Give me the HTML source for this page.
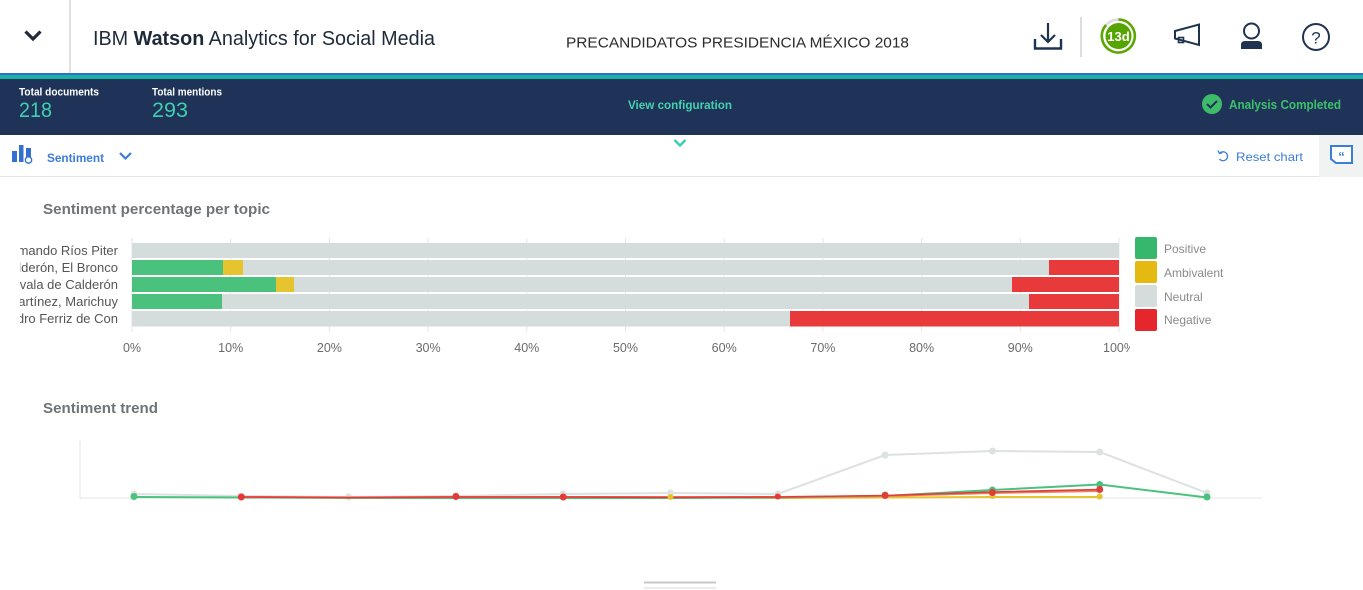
<!DOCTYPE html>
<html><head><meta charset="utf-8">
<style>
html,body{margin:0;padding:0;background:#fff;}
body{width:1363px;height:590px;overflow:hidden;}
svg{display:block;font-family:"Liberation Sans",sans-serif;}
</style></head>
<body>
<svg width="1363" height="590" viewBox="0 0 1363 590" xmlns="http://www.w3.org/2000/svg">
<defs>
<clipPath id="lblclip"><rect x="20" y="230" width="110" height="110"/></clipPath>
<clipPath id="tickclip"><rect x="100" y="330" width="1030" height="30"/></clipPath>
</defs>
<rect width="1363" height="590" fill="#fff"/>

<!-- HEADER -->
<polyline points="25.5,31.5 33,39 40.5,31.5" fill="none" stroke="#1f2a3a" stroke-width="3.2"/>
<line x1="70" y1="0" x2="70" y2="73" stroke="#e2e2e2" stroke-width="2"/>
<text x="93" y="45" font-size="20" fill="#1e2a3a" textLength="342" lengthAdjust="spacingAndGlyphs">IBM <tspan font-weight="bold">Watson</tspan> Analytics for Social Media</text>
<text x="566" y="47.5" font-size="15" fill="#2b2b2b" textLength="343" lengthAdjust="spacingAndGlyphs">PRECANDIDATOS PRESIDENCIA MÉXICO 2018</text>

<!-- download -->
<line x1="1048" y1="23" x2="1048" y2="42" stroke="#1f3350" stroke-width="2.2"/>
<polyline points="1041,35 1048,42 1055,35" fill="none" stroke="#1f3350" stroke-width="2.2"/>
<polyline points="1035,39 1035,48.5 1061,48.5 1061,39" fill="none" stroke="#1f3350" stroke-width="2.4"/>
<line x1="1081" y1="17" x2="1081" y2="57" stroke="#dddddd" stroke-width="2"/>
<!-- 13d -->
<circle cx="1118.5" cy="36" r="16.5" fill="none" stroke="#dcdcdc" stroke-width="2.5"/>
<path d="M1118.5,19.5 A16.5,16.5 0 1 1 1106,25" fill="none" stroke="#5aa700" stroke-width="2.5"/>
<circle cx="1118.5" cy="36" r="13" fill="#56a400"/>
<text x="1118.5" y="41" font-size="13" font-weight="bold" fill="#fff" text-anchor="middle">13d</text>
<!-- megaphone -->
<polygon points="1175,31 1199,24.5 1199,45 1175,38.5" fill="none" stroke="#1f3350" stroke-width="2"/>
<rect x="1178.5" y="37.5" width="5" height="5" fill="none" stroke="#1f3350" stroke-width="1.6"/>
<!-- user -->
<circle cx="1251.5" cy="31" r="7.5" fill="none" stroke="#1f3350" stroke-width="2"/>
<path d="M1241,49 L1241,45 Q1241,41 1245,41 L1258,41 Q1262,41 1262,45 L1262,49 Z" fill="#1f3350"/>
<!-- help -->
<circle cx="1316" cy="37" r="13" fill="none" stroke="#1f3350" stroke-width="2"/>
<text x="1316" y="43.5" font-size="17" fill="#1f3350" text-anchor="middle">?</text>

<!-- STRIPES / NAV BAR -->
<rect x="0" y="73" width="1363" height="2" fill="#2f6fd3"/>
<rect x="0" y="75" width="1363" height="4" fill="#16b3a3"/>
<rect x="0" y="79" width="1363" height="56" fill="#1f3358"/>
<text x="19" y="95.5" font-size="11" font-weight="bold" fill="#fff" textLength="80" lengthAdjust="spacingAndGlyphs">Total documents</text>
<text x="19" y="117" font-size="21" fill="#3fcfb0" textLength="33" lengthAdjust="spacingAndGlyphs">218</text>
<text x="152" y="95.5" font-size="11" font-weight="bold" fill="#fff" textLength="70" lengthAdjust="spacingAndGlyphs">Total mentions</text>
<text x="152" y="117" font-size="21" fill="#3fcfb0" textLength="36" lengthAdjust="spacingAndGlyphs">293</text>
<text x="628" y="109" font-size="12" font-weight="bold" fill="#45d1b0" textLength="104" lengthAdjust="spacingAndGlyphs">View configuration</text>
<circle cx="1212" cy="104" r="10" fill="#3dbb6a"/>
<polyline points="1207,104 1210.5,107.5 1217,101" fill="none" stroke="#1f3358" stroke-width="2"/>
<text x="1229" y="109" font-size="12.5" font-weight="bold" fill="#3ec06b" textLength="112" lengthAdjust="spacingAndGlyphs">Analysis Completed</text>

<!-- SUB TOOLBAR -->
<polyline points="674.5,140 680,145.5 685.5,140" fill="none" stroke="#3fcfb0" stroke-width="2.5"/>
<rect x="12" y="151" width="5" height="11" fill="#3470d0"/>
<rect x="19" y="145" width="4.5" height="17" fill="#3470d0"/>
<rect x="26" y="148" width="5" height="9" fill="#3470d0"/>
<circle cx="28.5" cy="160" r="3.2" fill="none" stroke="#3470d0" stroke-width="1.3"/>
<text x="47" y="162" font-size="12" font-weight="bold" fill="#3b7dd8" textLength="57" lengthAdjust="spacingAndGlyphs">Sentiment</text>
<polyline points="120,153 125.5,158.5 131,153" fill="none" stroke="#3b7dd8" stroke-width="2.2"/>
<path d="M1219.5,153.5 A4.5,4.5 0 1 1 1219.5,159" fill="none" stroke="#3b7dd8" stroke-width="1.3"/>
<polyline points="1218,150.5 1219.5,153.5 1222.5,152.5" fill="none" stroke="#3b7dd8" stroke-width="1.3"/>
<text x="1236" y="161" font-size="12" fill="#3b7dd8" textLength="67" lengthAdjust="spacingAndGlyphs">Reset chart</text>
<line x1="0" y1="176.5" x2="1319" y2="176.5" stroke="#e4e4e4" stroke-width="1"/>
<rect x="1319" y="135" width="44" height="42" fill="#f1f3f3"/>
<path d="M1331,146 L1352,146 L1352,163 L1336,163 L1331,159 Z" fill="#fff" stroke="#3b7dd8" stroke-width="2"/>
<text x="1341.5" y="161" font-size="13" font-weight="bold" fill="#3b7dd8" text-anchor="middle">“</text>

<!-- BAR CHART -->
<text x="43" y="214" font-size="15" font-weight="bold" fill="#6f7478" textLength="227" lengthAdjust="spacingAndGlyphs">Sentiment percentage per topic</text>
<g stroke="#e6e6e6" stroke-width="1">
<line x1="132" y1="238" x2="132" y2="332"/>
<line x1="230.7" y1="238" x2="230.7" y2="332"/>
<line x1="329.4" y1="238" x2="329.4" y2="332"/>
<line x1="428.1" y1="238" x2="428.1" y2="332"/>
<line x1="526.8" y1="238" x2="526.8" y2="332"/>
<line x1="625.5" y1="238" x2="625.5" y2="332"/>
<line x1="724.2" y1="238" x2="724.2" y2="332"/>
<line x1="822.9" y1="238" x2="822.9" y2="332"/>
<line x1="921.6" y1="238" x2="921.6" y2="332"/>
<line x1="1020.3" y1="238" x2="1020.3" y2="332"/>
<line x1="1119" y1="238" x2="1119" y2="332"/>
</g>
<!-- row 1 -->
<rect x="132" y="243" width="987" height="15" fill="#d5dcdc"/>
<!-- row 2 -->
<rect x="132" y="260" width="987" height="15" fill="#d5dcdc"/>
<rect x="132" y="260" width="91" height="15" fill="#4ac27d"/>
<rect x="223" y="260" width="20" height="15" fill="#e6c430"/>
<rect x="1049" y="260" width="70" height="15" fill="#e8393b"/>
<!-- row 3 -->
<rect x="132" y="277" width="987" height="15" fill="#d5dcdc"/>
<rect x="132" y="277" width="144" height="15" fill="#4ac27d"/>
<rect x="276" y="277" width="18" height="15" fill="#e6c430"/>
<rect x="1012" y="277" width="107" height="15" fill="#e8393b"/>
<!-- row 4 -->
<rect x="132" y="294" width="987" height="15" fill="#d5dcdc"/>
<rect x="132" y="294" width="90" height="15" fill="#4ac27d"/>
<rect x="1029" y="294" width="90" height="15" fill="#e8393b"/>
<!-- row 5 -->
<rect x="132" y="311" width="987" height="15.5" fill="#d5dcdc"/>
<rect x="790" y="311" width="329" height="15.5" fill="#e8393b"/>

<g clip-path="url(#lblclip)" font-size="13" fill="#555" text-anchor="end">
<text x="118" y="255">Armando Ríos Piter</text>
<text x="118" y="272">Jaime Rodríguez Calderón, El Bronco</text>
<text x="118" y="289">Margarita Zavala de Calderón</text>
<text x="118" y="306">María de Jesús Patricio Martínez, Marichuy</text>
<text x="118" y="323">Pedro Ferriz de Con</text>
</g>
<g clip-path="url(#tickclip)" font-size="12.5" fill="#6b6b6b" text-anchor="middle">
<text x="132" y="352">0%</text>
<text x="230.7" y="352">10%</text>
<text x="329.4" y="352">20%</text>
<text x="428.1" y="352">30%</text>
<text x="526.8" y="352">40%</text>
<text x="625.5" y="352">50%</text>
<text x="724.2" y="352">60%</text>
<text x="822.9" y="352">70%</text>
<text x="921.6" y="352">80%</text>
<text x="1020.3" y="352">90%</text>
<text x="1119" y="352">100%</text>
</g>
<!-- legend -->
<rect x="1135" y="237" width="22" height="22" rx="2" fill="#35b86e"/>
<rect x="1135" y="261" width="22" height="22" rx="2" fill="#e3b912"/>
<rect x="1135" y="285" width="22" height="22" rx="2" fill="#d5dcdc"/>
<rect x="1135" y="309" width="22" height="22" rx="2" fill="#e5272d"/>
<g font-size="12" fill="#8a8a8a">
<text x="1164" y="253">Positive</text>
<text x="1164" y="277">Ambivalent</text>
<text x="1164" y="301">Neutral</text>
<text x="1164" y="324">Negative</text>
</g>

<!-- TREND CHART -->
<text x="43" y="413" font-size="15" font-weight="bold" fill="#6f7478" textLength="115" lengthAdjust="spacingAndGlyphs">Sentiment trend</text>
<line x1="80" y1="441" x2="80" y2="498" stroke="#e6e6e6" stroke-width="1"/>
<line x1="80" y1="498" x2="1262" y2="498" stroke="#e6e6e6" stroke-width="1"/>

<polyline fill="none" stroke="#dde1e1" stroke-width="2" points="134,494 241.3,496 348.6,497 455.9,496 563.2,494 670.5,493 777.8,494 885.1,455 992.4,451 1099.7,452 1207,493"/>
<g fill="#dde1e1">
<circle cx="134" cy="494" r="3.5"/><circle cx="241.3" cy="496" r="3.5"/><circle cx="348.6" cy="497" r="3.5"/><circle cx="455.9" cy="496" r="3.5"/><circle cx="563.2" cy="494" r="3.5"/><circle cx="670.5" cy="493" r="3.5"/><circle cx="777.8" cy="494" r="3.5"/><circle cx="885.1" cy="455" r="3.5"/><circle cx="992.4" cy="451" r="3.5"/><circle cx="1099.7" cy="452" r="3.5"/><circle cx="1207" cy="493" r="3.5"/>
</g>
<polyline fill="none" stroke="#e6c430" stroke-width="2" points="563.2,497.5 670.5,497 777.8,498 885.1,497.5 992.4,497 1099.7,497"/>
<polyline fill="none" stroke="#4ac27d" stroke-width="2" points="134,497 241.3,497.5 348.6,498 455.9,498 563.2,498 670.5,498 777.8,497.5 885.1,496 992.4,490 1099.7,484.5 1207,497.5"/>
<polyline fill="none" stroke="#e8825a" stroke-width="2" points="241.3,497 348.6,497.5 455.9,497 563.2,497 670.5,497 777.8,497 885.1,496 992.4,493 1099.7,491"/>
<polyline fill="none" stroke="#e23b3b" stroke-width="1.6" points="241.3,497 348.6,497.5 455.9,497 563.2,497 670.5,497.5 777.8,497 885.1,495.5 992.4,492 1099.7,489.5"/>
<g fill="#e6c430">
<circle cx="670.5" cy="497" r="3"/><circle cx="992.4" cy="496" r="3"/><circle cx="1099.7" cy="496.5" r="3"/>
</g>
<g fill="#4ac27d">
<circle cx="134" cy="496.5" r="3.5"/><circle cx="885.1" cy="495" r="3.5"/><circle cx="992.4" cy="490" r="3.5"/><circle cx="1099.7" cy="484.5" r="3.5"/><circle cx="1207" cy="497" r="3.5"/>
</g>
<g fill="#e23b3b">
<circle cx="241.3" cy="497" r="3.5"/><circle cx="455.9" cy="496.5" r="3.5"/><circle cx="563.2" cy="497" r="3.5"/><circle cx="777.8" cy="496.5" r="3"/><circle cx="885.1" cy="495.5" r="3.5"/><circle cx="992.4" cy="492.5" r="3.5"/><circle cx="1099.7" cy="489.5" r="3.5"/>
</g>

<!-- bottom handle -->
<line x1="644" y1="582.5" x2="716" y2="582.5" stroke="#c8c8c8" stroke-width="2"/>
<line x1="644" y1="588" x2="716" y2="588" stroke="#d8d8d8" stroke-width="1"/>
</svg>
</body></html>
